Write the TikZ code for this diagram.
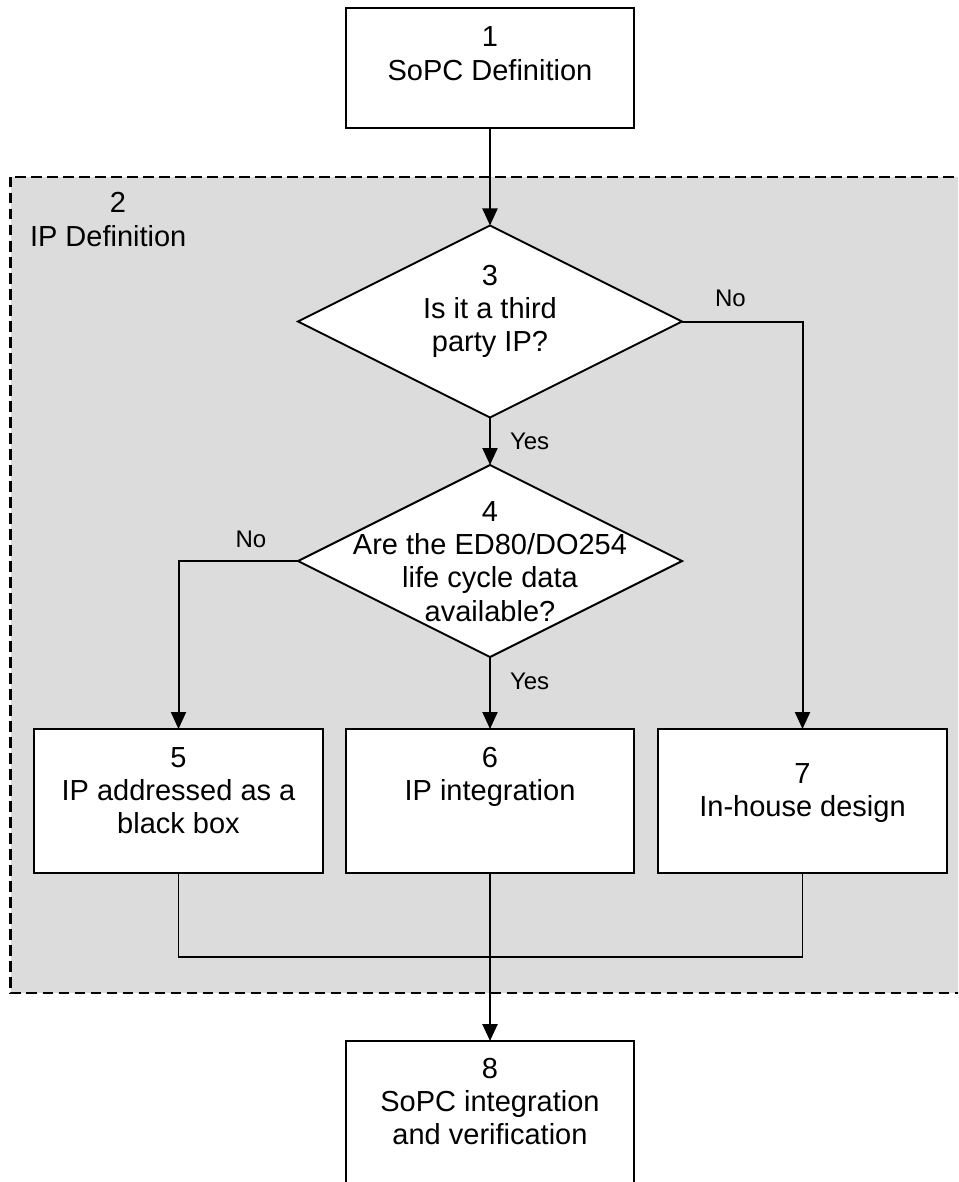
\documentclass[tikz,border=0pt]{standalone}
\usepackage{fontspec}
\setmainfont{Liberation Sans}
\usetikzlibrary{arrows.meta,shapes.geometric}
\definecolor{regiongray}{RGB}{220,220,220}

\begin{document}
\begin{tikzpicture}[x=1pt,y=-1pt,
  every node/.style={inner sep=0pt,outer sep=0pt},
  stepbox/.style={draw,line width=2pt,fill=white,minimum width=289pt,minimum height=144pt},
  decision/.style={diamond,draw,line width=2pt,fill=white,minimum width=384pt,minimum height=192pt},
  txt/.style={align=center,font=\fontsize{29}{33.4}\selectfont,anchor=base},
  lbl/.style={font=\fontsize{24}{28}\selectfont},
  flow/.style={line width=2pt,-{Triangle[length=17pt,width=15pt]}},
  joinline/.style={line width=1.5pt},
  region/.style={draw,fill=regiongray,line width=2.5pt,dash pattern=on 10.5pt off 5.5pt}
]
\useasboundingbox (0,0) rectangle (958,1182);
\clip (0,0) rectangle (958,1182);

% grouping area for the IP definition phase
\path[region] (10.5,177) rectangle (970,993);
\node[txt] (n2num) at (118,213) {2};
\node[txt,anchor=base west] (n2name) at (30,247) {IP Definition};

% process steps (text anchored at the baseline of its last line)
\node[stepbox,minimum width=288pt,minimum height=120pt] (b1) at (490,68) {};
\node[txt] (t1) at (490,80.4) {1\\SoPC Definition};

\node[decision] (d3) at (490,321.5) {};
\node[txt] (t3) at (490,351.8) {3\\Is it a third\\party IP?};

\node[decision] (d4) at (490,561) {};
\node[txt] (t4) at (490,621.2) {4\\Are the ED80/DO254\\life cycle data\\available?};

\node[stepbox] (b5) at (178.5,801) {};
\node[txt] (t5) at (178.5,833.8) {5\\IP addressed as a\\black box};

\node[stepbox,minimum width=288pt] (b6) at (490,801) {};
\node[txt] (t6) at (490,800.4) {6\\IP integration};

\node[stepbox] (b7) at (802.5,801) {};
\node[txt] (t7) at (802.5,816.4) {7\\In-house design};

\node[stepbox,minimum width=288pt,minimum height=170pt] (b8) at (490,1126) {};
\node[txt] (t8) at (490,1144.8) {8\\SoPC integration\\and verification};

% connectors
\draw[flow] (b1.south) -- (d3.north);
\draw[flow] (d3.south) -- (d4.north);
\node[lbl,anchor=base west] (yes1) at (510,449) {Yes};
\draw[flow] (d4.south) -- (b6.north);
\node[lbl,anchor=base west] (yes2) at (510,689) {Yes};
\draw[flow] (d4.west) -| (b5.north);
\node[lbl,anchor=base] (no1) at (251,547) {No};
\draw[flow] (d3.east) -| (b7.north);
\node[lbl,anchor=base west] (no2) at (715,306) {No};

\coordinate (merge) at (490,957);
\draw[joinline] (b5.south) |- (merge);
\draw[joinline] (b7.south) |- (merge);
\draw[joinline] (b6.south) -- (merge);
\draw[flow,line width=2.5pt] (merge) -- (b8.north);
\end{tikzpicture}
\end{document}
